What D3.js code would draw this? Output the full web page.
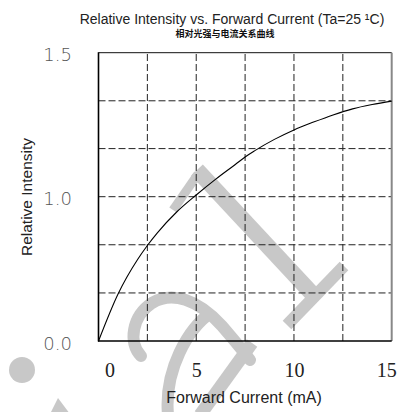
<!DOCTYPE html>
<html><head><meta charset="utf-8">
<script src="https://cdn.jsdelivr.net/npm/d3@7"></script>
<style>html,body{margin:0;padding:0;background:#fff;}svg{display:block;}</style>
</head><body>
<script>
// Data
const currents = [0, 1, 2, 2.5, 3, 4, 5, 6, 7, 7.5, 8, 9, 10, 11, 12, 13, 14, 15];
const intensity = [0, 0.326, 0.565, 0.662, 0.748, 0.894, 1.006, 1.061, 1.112, 1.138, 1.160, 1.199, 1.232, 1.259, 1.284, 1.305, 1.320, 1.332];
const xGrid = [2.5, 5, 7.5, 10, 12.5];
const yGrid = [0.333, 0.667, 1.0, 1.167, 1.333];
const xTickLabels = [0, 5, 10, 15];
const yTickLabels = ["0.0", "1.0", "1.5"];
const yTickValues = [0, 1.0, 1.5];
const titleText = "Relative Intensity vs. Forward Current (Ta=25 \u00B9C)";
const subtitleText = "相对光强与电流关系曲线";
const xTitle = "Forward Current (mA)";
const yTitle = "Relative Intensity";

const W = 409, H = 412;
const svg = d3.select("body").append("svg").attr("width", W).attr("height", H);

const x = d3.scaleLinear().domain([0, 15]).range([98.5, 391.7]);
// the printed axis is not uniform: 0.0 -> 1.0 takes the lower half, 1.0 -> 1.5 the upper half
const y = d3.scaleLinear().domain([0, 1.0, 1.5]).range([341, 196.7, 52.7]);

// watermark (light gray logo behind chart)
const wm = svg.append("g").attr("fill", "none").attr("stroke", "#c8c8c8").attr("stroke-linecap", "round");
wm.append("circle").attr("cx", 22).attr("cy", 370).attr("r", 13).attr("fill", "#c8c8c8").attr("stroke", "none");
wm.append("path").attr("d", "M50,414 L58,398 L70,414 Z").attr("fill", "#c8c8c8").attr("stroke", "none");
wm.append("path").attr("stroke-width", 12).attr("d", "M141,356 C128,343 132,316 152,303 C172,291 198,299 222,326 C234,340 244,352 250,360");
wm.append("path").attr("stroke-width", 12).attr("stroke-linecap", "butt").attr("d", "M212,312 C188,328 164,370 168,415");
wm.append("path").attr("stroke-width", 13).attr("stroke-linecap", "butt").attr("d", "M200,415 L252,343");
wm.append("path").attr("stroke-width", 9).attr("stroke-linecap", "butt").attr("d", "M173,210 L198,174");
wm.append("path").attr("stroke-width", 16).attr("stroke-linecap", "butt").attr("d", "M197,170 L318,300");
wm.append("path").attr("stroke-width", 12).attr("stroke-linecap", "butt").attr("d", "M287,325 L344,266");

// grid
const g = svg.append("g");
g.selectAll("line.vg").data(xGrid).join("line")
  .attr("x1", d => x(d)).attr("x2", d => x(d))
  .attr("y1", y(0)).attr("y2", y(1.5))
  .attr("stroke", "#222").attr("stroke-width", 1).attr("stroke-dasharray", "7,3");
g.selectAll("line.hg").data(yGrid).join("line")
  .attr("x1", x(0)).attr("x2", x(15))
  .attr("y1", d => y(d)).attr("y2", d => y(d))
  .attr("stroke", "#222").attr("stroke-width", 1).attr("stroke-dasharray", "7,3");

// frame
svg.append("line").attr("x1", x(0)).attr("x2", x(15)).attr("y1", y(1.5)).attr("y2", y(1.5)).attr("stroke", "#111").attr("stroke-width", 1);
svg.append("line").attr("x1", x(15)).attr("x2", x(15)).attr("y1", y(1.5)).attr("y2", y(0)).attr("stroke", "#888").attr("stroke-width", 2);
svg.append("line").attr("x1", x(0)).attr("x2", x(0)).attr("y1", y(1.5) - 0.5).attr("y2", y(0) + 0.5).attr("stroke", "#000").attr("stroke-width", 1.6);
svg.append("line").attr("x1", x(0) - 0.5).attr("x2", x(15)).attr("y1", y(0)).attr("y2", y(0)).attr("stroke", "#000").attr("stroke-width", 1.6);

// curve
const pts = currents.map((c, i) => [c, intensity[i]]);
svg.append("path").datum(pts)
  .attr("fill", "none").attr("stroke", "#000").attr("stroke-width", 1.1)
  .attr("d", d3.line().x(d => x(d[0])).y(d => y(d[1])).curve(d3.curveMonotoneX));

// y tick labels
svg.selectAll("text.yt").data(yTickValues).join("text")
  .attr("x", 72).attr("y", d => y(d) + 2)
  .attr("text-anchor", "end").attr("dominant-baseline", "central")
  .attr("font-family", "DejaVu Sans").attr("font-weight", 200).attr("font-size", 18)
  .attr("fill", "#555").text((d, i) => yTickLabels[i]);

// x tick labels
svg.selectAll("text.xt").data(xTickLabels).join("text")
  .attr("x", (d, i) => x(d) + (i === 0 ? 11.5 : (i === xTickLabels.length - 1 ? -5 : 0.5)))
  .attr("y", 377)
  .attr("text-anchor", "middle")
  .attr("font-family", "Liberation Serif, Times New Roman, serif").attr("font-size", 20)
  .attr("fill", "#222").text(d => d);

// titles
svg.append("text").attr("x", 232).attr("y", 23.5).attr("text-anchor", "middle")
  .attr("font-family", "Liberation Sans Narrow, Arial Narrow, Liberation Sans, sans-serif").attr("font-size", 14)
  .attr("fill", "#222").text(titleText);
svg.append("text").attr("x", 225).attr("y", 37).attr("text-anchor", "middle")
  .attr("font-family", "Noto Sans CJK SC").attr("font-weight", "bold").attr("font-size", 9)
  .attr("fill", "#111").text(subtitleText);
svg.append("text").attr("x", 244).attr("y", 403).attr("text-anchor", "middle")
  .attr("font-family", "Liberation Sans, Arial, sans-serif").attr("font-size", 16)
  .attr("fill", "#222").text(xTitle);
svg.append("text").attr("transform", "translate(31.5,197) rotate(-90)").attr("text-anchor", "middle")
  .attr("font-family", "Liberation Sans, Arial, sans-serif").attr("font-size", 15.5)
  .attr("fill", "#222").text(yTitle);
</script>
</body></html>
